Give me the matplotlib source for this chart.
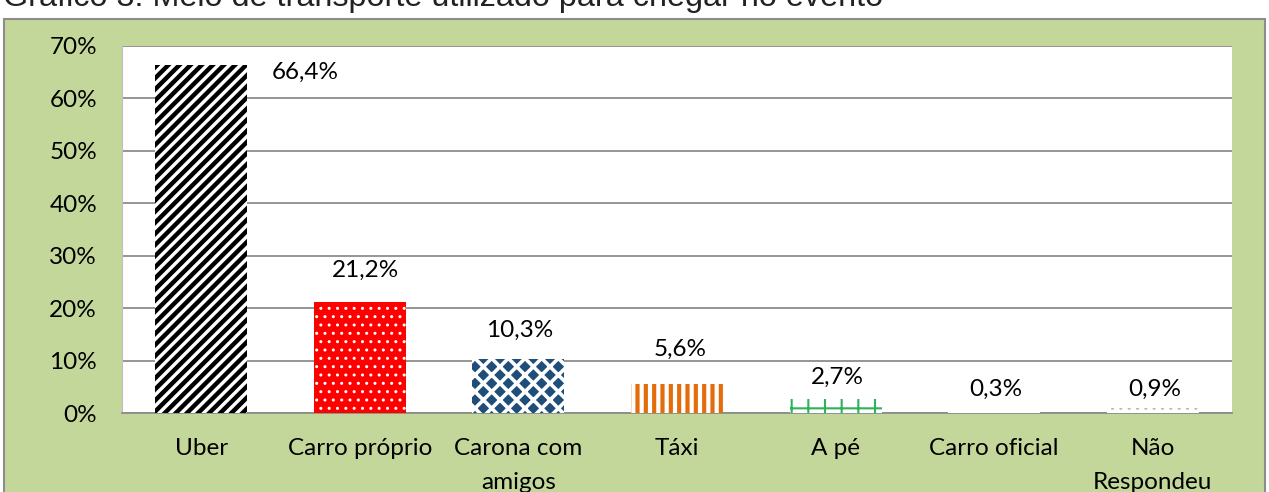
import matplotlib
matplotlib.use("Agg")
import matplotlib.pyplot as plt
from matplotlib.patches import Rectangle

categories = ['Uber', 'Carro próprio', 'Carona com\namigos', 'Táxi', 'A pé', 'Carro oficial', 'Não\nRespondeu']
values = [66.4, 21.2, 10.3, 5.6, 2.7, 0.3, 0.9]
value_labels = ['66,4%', '21,2%', '10,3%', '5,6%', '2,7%', '0,3%', '0,9%']
yticks = [0, 10, 20, 30, 40, 50, 60, 70]
ytick_labels = ['0%', '10%', '20%', '30%', '40%', '50%', '60%', '70%']
title = 'Gráfico 3: Meio de transporte utilizado para chegar no evento'

W, H = 1269, 492
DPI = 100
PX = 72 / DPI  # points per pixel
fig = plt.figure(figsize=(W / DPI, H / DPI), dpi=DPI)
fig.patch.set_facecolor('white')

FONT = ['Lato', 'DejaVu Sans']
FS = 17.5

# green panel
fig.patches.append(Rectangle((4 / W, -0.1), (1265 - 4) / W, (H - 19) / H + 0.1,
                             transform=fig.transFigure, facecolor='#C4D79B',
                             edgecolor='#8c8c8c', linewidth=1.5, zorder=0))

# cut-off title
fig.text(3 / W, 1 - 6 / H, title, ha='left', va='baseline', fontsize=23.3,
         family=['Liberation Sans', 'DejaVu Sans'], color='#222222')

L, R, T, B = 122, 1232, 46, 413
ax = fig.add_axes([L / W, (H - B) / H, (R - L) / W, (B - T) / H])
ax.set_facecolor('white')
ax.set_zorder(2)

x = list(range(len(categories)))
styles = [
    dict(facecolor='white', edgecolor='black', hatch='///', hlw=3.2),
    dict(facecolor='#FF0000', edgecolor='white', hatch='..', hlw=1.0),
    dict(facecolor='#1F4E79', edgecolor='white', hatch='xx', hlw=2.6),
    dict(facecolor='white', edgecolor='#E46C0A', hatch='||', hlw=3.0),
    dict(facecolor='white', edgecolor='#2DB45A', hatch='+', hlw=1.5),
    dict(facecolor='white', edgecolor='#2DB45A', hatch='', hlw=1.0),
    dict(facecolor='white', edgecolor='#bbbbbb', hatch='..', hlw=1.0),
]
bars = ax.bar(x, values, width=0.58, zorder=3, linewidth=0)
for b, st in zip(bars, styles):
    b.set_facecolor(st['facecolor'])
    b.set_edgecolor(st['edgecolor'])
    b.set_hatch(st['hatch'])
    if hasattr(b, 'set_hatch_linewidth'):
        b.set_hatch_linewidth(st['hlw'])

ax.set_xlim(-0.5, len(categories) - 0.5)
ax.set_ylim(0, 70)
ax.set_yticks(yticks)
ax.set_yticklabels(ytick_labels, family=FONT, fontsize=FS, color='black')
ax.set_xticks(x)
ax.set_xticklabels(categories, family=FONT, fontsize=FS, color='black', linespacing=1.75)
ax.tick_params(axis='y', length=0, pad=18)
ax.tick_params(axis='x', length=0, pad=18)
ax.grid(axis='y', color='#8c8c8c', linewidth=1.3, zorder=1)
ax.set_axisbelow(True)
for side in ['top', 'right']:
    ax.spines[side].set_visible(False)
ax.spines['left'].set_color('#bfbfbf')
ax.spines['bottom'].set_color('#8c8c8c')
ax.spines['bottom'].set_linewidth(1.3)

# label offsets (pixels) from the bar top
label_dx = [104, 6, 1, 3, 2, 2, 2]
label_dy = [-7, 32, 29, 34, 22, 22, 19]
for i, (v, lab) in enumerate(zip(values, value_labels)):
    ax.annotate(lab, (i, v), xytext=(label_dx[i] * PX, label_dy[i] * PX),
                textcoords='offset points', ha='center', va='center',
                family=FONT, fontsize=FS)

fig.savefig('out.png', dpi=DPI)
